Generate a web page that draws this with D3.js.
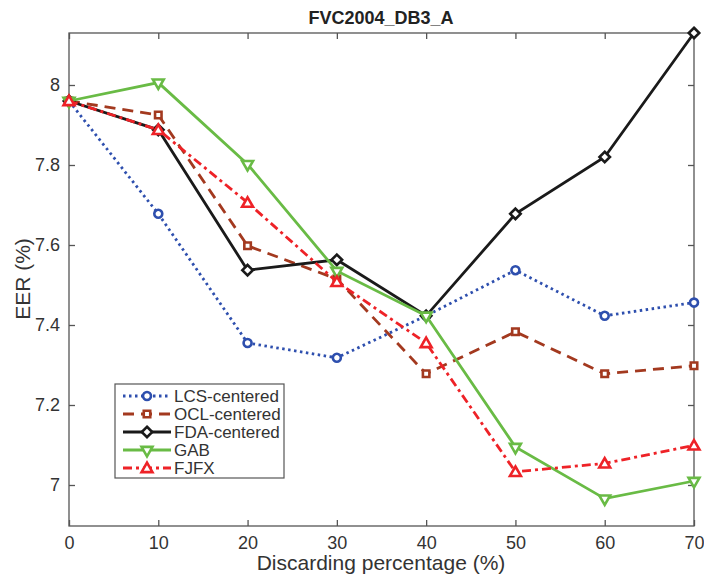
<!DOCTYPE html>
<html>
<head>
<meta charset="utf-8">
<script src="https://cdn.jsdelivr.net/npm/d3@7"></script>
<style>
body { margin: 0; background: #fff; }
text { font-family: "Liberation Sans", Arial, sans-serif; fill: #333; }
</style>
</head>
<body>
<div id="view"></div>
<script>
var width = 704, height = 576;

// データ
var xValues = [0, 10, 20, 30, 40, 50, 60, 70];
var lcs = [7.96, 7.678, 7.355, 7.318, 7.423, 7.537, 7.423, 7.456];
var ocl = [7.96, 7.925, 7.598, 7.515, 7.278, 7.383, 7.278, 7.298];
var fda = [7.96, 7.888, 7.537, 7.563, 7.423, 7.678, 7.82, 8.13];
var gab = [7.96, 8.006, 7.802, 7.535, 7.423, 7.095, 6.966, 7.01];
var fjfx = [7.96, 7.888, 7.706, 7.508, 7.355, 7.033, 7.054, 7.099];
var seriesNames = ["LCS-centered", "OCL-centered", "FDA-centered", "GAB", "FJFX"];
var xTicks = [0, 10, 20, 30, 40, 50, 60, 70];
var yTicks = [7, 7.2, 7.4, 7.6, 7.8, 8];

var series = [
	{ name: seriesNames[0], values: lcs, color: "#2e4fae", dash: "2.5,3.5", marker: "circle" },
	{ name: seriesNames[1], values: ocl, color: "#a3391f", dash: "11,7", marker: "square" },
	{ name: seriesNames[2], values: fda, color: "#1a1a1a", dash: null, marker: "diamond" },
	{ name: seriesNames[3], values: gab, color: "#69bb45", dash: null, marker: "down" },
	{ name: seriesNames[4], values: fjfx, color: "#ee2227", dash: "9,4,3,4", marker: "up" }
];

var svg = d3.select("#view").append("svg")
	.attr("width", width)
	.attr("height", height);

var x = d3.scaleLinear().domain([0, 70]).range([69, 694]);
var y = d3.scaleLinear().domain([6.8975, 8.13]).range([526, 33]);

// 枠
svg.append("rect")
	.attr("x", x(0)).attr("y", y(8.13))
	.attr("width", x(70) - x(0)).attr("height", y(6.8975) - y(8.13))
	.style("fill", "none").style("stroke", "#555").style("stroke-width", 1.3);

// 目盛り（内向き、四辺）
var axisB = d3.axisBottom(x).tickValues(xTicks).tickSize(-6).tickPadding(10).tickFormat(d3.format("d"));
var axisT = d3.axisTop(x).tickValues(xTicks).tickSize(-6).tickFormat("");
var axisL = d3.axisLeft(y).tickValues(yTicks).tickSize(-6).tickPadding(9).tickFormat(d3.format("~g"));
var axisR = d3.axisRight(y).tickValues(yTicks).tickSize(-6).tickFormat("");

function styleAxis(g) {
	g.select(".domain").remove();
	g.selectAll(".tick line").style("stroke", "#555").style("stroke-width", 1.3);
	g.selectAll(".tick text").style("font-size", "18px").style("fill", "#333");
}
svg.append("g").attr("transform", "translate(0," + y(6.8975) + ")").call(axisB).call(styleAxis);
svg.append("g").attr("transform", "translate(0," + y(8.13) + ")").call(axisT).call(styleAxis);
svg.append("g").attr("transform", "translate(" + x(0) + ",0)").call(axisL).call(styleAxis);
svg.append("g").attr("transform", "translate(" + x(70) + ",0)").call(axisR).call(styleAxis);

// マーカー
var symbols = {
	circle: d3.symbol().type(d3.symbolCircle).size(50),
	square: d3.symbol().type(d3.symbolSquare).size(42),
	diamond: d3.symbol().type(d3.symbolDiamond2).size(70),
	down: d3.symbol().type(d3.symbolTriangle2).size(85),
	up: d3.symbol().type(d3.symbolTriangle2).size(85)
};
function markerTransform(s, px, py) {
	var t = "translate(" + px + "," + py + ")";
	if (s.marker === "down") t += " rotate(180)";
	if (s.marker === "up") t += " translate(0,1)";
	return t;
}

var line = d3.line()
	.x(function(d, i) { return x(xValues[i]); })
	.y(function(d) { return y(d); });

series.forEach(function(s) {
	var g = svg.append("g");
	g.append("path")
		.attr("d", line(s.values))
		.style("fill", "none")
		.style("stroke", s.color)
		.style("stroke-width", 2.8)
		.style("stroke-dasharray", s.dash);
	g.selectAll(".pt")
		.data(s.values).enter()
		.append("path")
		.attr("class", "pt")
		.attr("d", symbols[s.marker])
		.attr("transform", function(d, i) { return markerTransform(s, x(xValues[i]), y(d)); })
		.style("fill", "#fff")
		.style("stroke", s.color)
		.style("stroke-width", 2.6);
});

// タイトル・軸ラベル
svg.append("text")
	.attr("x", 381).attr("y", 24)
	.attr("text-anchor", "middle")
	.style("font-size", "18px").style("font-weight", "bold")
	.style("fill", "#222")
	.text("FVC2004_DB3_A");

svg.append("text")
	.attr("x", 381).attr("y", 570)
	.attr("text-anchor", "middle")
	.style("font-size", "21px")
	.text("Discarding percentage (%)");

svg.append("text")
	.attr("transform", "translate(30,279) rotate(-90)")
	.attr("text-anchor", "middle")
	.style("font-size", "21px")
	.text("EER (%)");

// 凡例
var legend = svg.append("g").attr("transform", "translate(115,384)");
legend.append("rect")
	.attr("width", 169).attr("height", 94)
	.style("fill", "#fff").style("stroke", "#555").style("stroke-width", 1.2);
series.forEach(function(s, i) {
	var ly = 12 + i * 18;
	legend.append("line")
		.attr("x1", 8).attr("x2", 56).attr("y1", ly).attr("y2", ly)
		.style("stroke", s.color).style("stroke-width", 2.8)
		.style("stroke-dasharray", s.dash);
	legend.append("path")
		.attr("d", symbols[s.marker])
		.attr("transform", markerTransform(s, 32, ly))
		.style("fill", "#fff").style("stroke", s.color).style("stroke-width", 2.6);
	legend.append("text")
		.attr("x", 59).attr("y", ly + 6)
		.style("font-size", "17px")
		.text(s.name);
});
</script>
</body>
</html>
